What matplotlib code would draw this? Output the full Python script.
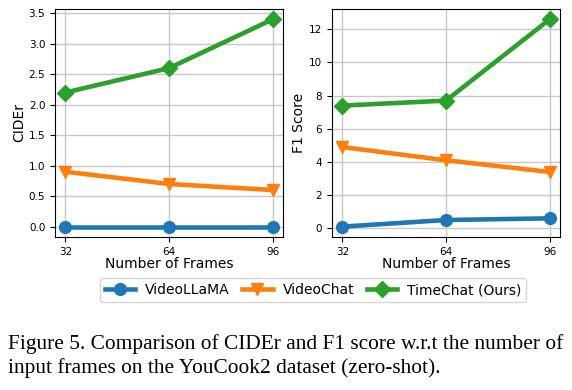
import numpy as np
import matplotlib
matplotlib.use('Agg')
import matplotlib.pyplot as plt

# number of input frames
frames = [32, 64, 96]

# CIDEr
cider_videollama = [0.0, 0.0, 0.0]
cider_videochat = [0.9, 0.7, 0.6]
cider_timechat = [2.2, 2.6, 3.4]

# F1 score
f1_videollama = [0.1, 0.5, 0.6]
f1_videochat = [4.9, 4.1, 3.4]
f1_timechat = [7.4, 7.7, 12.6]

names = ['VideoLLaMA', 'VideoChat', 'TimeChat (Ours)']
colors = ['#1f77b4', '#ff7f0e', '#2ca02c']
markers = ['o', 'v', 'D']

caption = ('Figure 5. Comparison of CIDEr and F1 score w.r.t the number of\n'
           'input frames on the YouCook2 dataset (zero-shot).')

fig = plt.figure(figsize=(5.72, 3.9), dpi=100)
ax1 = fig.add_axes([55/572, 1-237/390, 228/572, 228/390])
ax2 = fig.add_axes([332/572, 1-237/390, 228/572, 228/390])

for ax, series, ylab in [(ax1, [cider_videollama, cider_videochat, cider_timechat], 'CIDEr'),
                         (ax2, [f1_videollama, f1_videochat, f1_timechat], 'F1 Score')]:
    for vals, c, m, n in zip(series, colors, markers, names):
        ax.plot(frames, vals, color=c, marker=m, lw=3.3, ms=8.5, label=n)
    ax.set_xticks(frames)
    ax.grid(True, color='#c8c8c8', lw=1)
    ax.set_axisbelow(True)
    ax.tick_params(labelsize=7.5)
    ax.set_xlabel('Number of Frames', fontsize=10, labelpad=0)
    ax.set_ylabel(ylab, fontsize=10, labelpad=2)

ax2.set_yticks([0, 2, 4, 6, 8, 10, 12])

h, l = ax1.get_legend_handles_labels()
fig.legend(h, l, loc='center', bbox_to_anchor=(313/572, 1-290/390), ncol=3,
           fontsize=10, handlelength=2.2, columnspacing=0.9, handletextpad=0.7,
           borderpad=0.35, frameon=True)

fig.text(8/572, 1-356/390, caption, family='Liberation Serif', fontsize=15.4,
         va='center', ha='left', linespacing=1.28)

fig.savefig('out.png', dpi=100)
